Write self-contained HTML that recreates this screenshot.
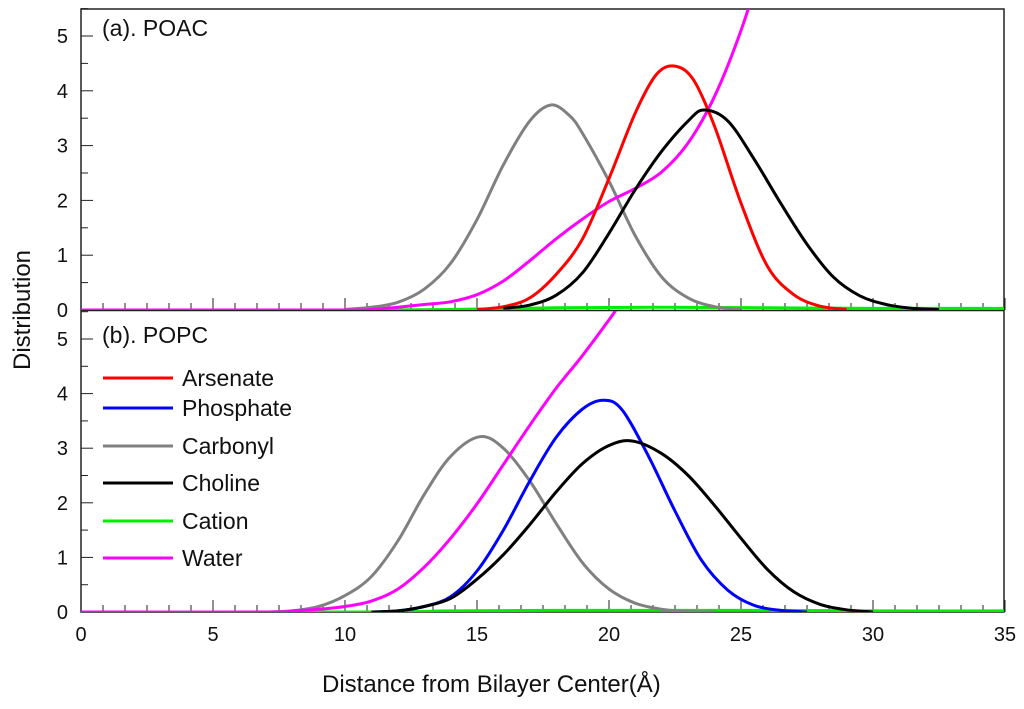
<!DOCTYPE html>
<html><head><meta charset="utf-8">
<style>
html,body{margin:0;padding:0;background:#fff;}
svg{display:block;font-family:"Liberation Sans",Arial,sans-serif;}
</style></head>
<body>
<svg id="chart" width="1024" height="709" viewBox="0 0 1024 709">
<defs>
<clipPath id="clipA"><rect x="81" y="9" width="923" height="301"/></clipPath>
<clipPath id="clipB"><rect x="81" y="311" width="923" height="301"/></clipPath>
</defs>
<g id="axes"></g>
<g id="series"></g>
<text x="102" y="36" font-size="23" fill="#111">(a). POAC</text>
<text x="102" y="343" font-size="23" fill="#111">(b). POPC</text>
<text transform="translate(30,310) rotate(-90)" text-anchor="middle" font-size="24" fill="#111">Distribution</text>
<text x="322" y="692" font-size="24" fill="#111">Distance from Bilayer Center(Å)</text>
<g id="legend"></g>
</svg>
<script>
const xTicks=[0,5,10,15,20,25,30,35];
const yTicks=[0,1,2,3,4,5];
// Panel (a) POAC
const aArsX=[15,16,17,18,19,20,21,21.8,22.5,23.2,24,25,26,27,28,29];
const aArsY=[0.01,0.06,0.22,0.65,1.3,2.4,3.6,4.3,4.45,4.2,3.35,1.95,0.8,0.28,0.07,0.01];
const aCarX=[10,11,12,13,14,15,16,17,17.8,18.5,19,20,21,22,23,24,25];
const aCarY=[0.01,0.05,0.14,0.38,0.85,1.65,2.65,3.45,3.74,3.55,3.22,2.35,1.35,0.6,0.22,0.06,0.01];
const aChoX=[16,17,18,19,20,21,22,23,23.6,24.5,25.5,26.5,27.5,28.5,29.5,30.5,31.5,32.5];
const aChoY=[0.03,0.09,0.27,0.68,1.4,2.2,2.9,3.45,3.65,3.45,2.75,1.95,1.2,0.6,0.26,0.1,0.03,0.01];
const aCatX=[0,10,14,18,22,26,30,35];
const aCatY=[0,0,0.01,0.04,0.05,0.04,0.03,0.03];
const aWatX=[0,10,11,12,13,14,15,16,17,18,19,20,21,22,23,24,25,26];
const aWatY=[0,0,0.01,0.05,0.1,0.15,0.28,0.53,0.9,1.3,1.66,1.98,2.22,2.52,3.05,3.9,5.1,6.6];
// Panel (b) POPC
const bPhoX=[11,12,13,14,15,16,17,18,19,19.8,20.5,21.5,22.5,23.5,24.5,25.5,26.5,27.5];
const bPhoY=[0,0.02,0.1,0.28,0.75,1.5,2.4,3.2,3.72,3.88,3.7,2.85,1.85,0.95,0.4,0.12,0.03,0];
const bCarX=[7,8,9,10,11,12,13,14,15.1,16,17,18,19,20,21,22,23,24];
const bCarY=[0,0.02,0.1,0.3,0.65,1.3,2.15,2.85,3.21,3.0,2.4,1.62,0.9,0.42,0.16,0.05,0.01,0];
const bChoX=[11,12,13,14,15,16,17,18,19,20,20.9,22,23,24,25,26,27,28,29,30];
const bChoY=[0,0.02,0.1,0.25,0.6,1.05,1.6,2.2,2.72,3.05,3.13,2.9,2.5,1.95,1.35,0.78,0.37,0.14,0.04,0];
const bCatX=[0,11,14,18,22,26,30,35];
const bCatY=[0,0,0.02,0.03,0.03,0.03,0.02,0.02];
const bWatX=[0,7,8,9,10,11,12,13,14,15,16,17,18,19,20,20.5];
const bWatY=[0,0,0.02,0.05,0.1,0.2,0.42,0.82,1.35,1.98,2.7,3.42,4.1,4.7,5.35,5.7];

const X0=81,XS=26.4;
const panels={a:{y0:310,ys:54.8,clip:'clipA'},b:{y0:612,ys:54.6,clip:'clipB'}};
const xs=v=>X0+v*XS;
const ysf=(p,v)=>panels[p].y0-v*panels[p].ys;
const NS='http://www.w3.org/2000/svg';
function mk(tag,attrs,parent){const e=document.createElementNS(NS,tag);for(const k in attrs)e.setAttribute(k,attrs[k]);parent.appendChild(e);return e;}
const axes=document.getElementById('axes');
const fr=mk('rect',{x:81,y:9,width:923,height:603,fill:'none',stroke:'#222','stroke-width':1.5},axes);


const dv=mk('line',{x1:81,x2:1004,y1:310.5,y2:310.5,stroke:'#222','stroke-width':1.5},axes);


['a','b'].forEach(p=>{
  for(let v=0;v<=5.5;v+=0.5){
    const y=ysf(p,v);const major=Math.abs(v-Math.round(v))<1e-6;
    const t=mk('line',{x1:81,x2:81+(major?12:7),y1:y,y2:y,stroke:'#222','stroke-width':1},axes);
    
    
  }
  yTicks.forEach(v=>{
    const t=mk('text',{x:68,y:ysf(p,v)+7,'text-anchor':'end','font-size':20,fill:'#111'},axes);
    t.textContent=v;
    
    
  });
  for(let i=0;i<=42;i++){
    const v=i*5/6;const x=xs(v);const major=i%6===0;
    const t=mk('line',{x1:x,x2:x,y1:panels[p].y0,y2:panels[p].y0-(major?12:7),stroke:'#222','stroke-width':1},axes);
    
    
  }
});
xTicks.forEach(v=>{
  const t=mk('text',{x:xs(v),y:641,'text-anchor':'middle','font-size':20,fill:'#111'},axes);
  t.textContent=v;
  
  
});
function pathD(p,X,Y){
  const pts=X.map((x,i)=>[xs(x),ysf(p,Y[i])]);
  let d='M'+pts[0][0].toFixed(1)+','+pts[0][1].toFixed(1);
  for(let i=0;i<pts.length-1;i++){
    const p0=pts[Math.max(0,i-1)],p1=pts[i],p2=pts[i+1],p3=pts[Math.min(pts.length-1,i+2)];
    const c1=[p1[0]+(p2[0]-p0[0])/6,p1[1]+(p2[1]-p0[1])/6];
    const c2=[p2[0]-(p3[0]-p1[0])/6,p2[1]-(p3[1]-p1[1])/6];
    d+='C'+c1.map(n=>n.toFixed(1))+' '+c2.map(n=>n.toFixed(1))+' '+p2.map(n=>n.toFixed(1));
  }
  return d;
}
const ser=document.getElementById('series');
const list=[
 ['a','cation',aCatX,aCatY,'#00ee00'],
 ['a','carbonyl',aCarX,aCarY,'#808080'],
 ['a','water',aWatX,aWatY,'#ff00ff'],
 ['a','arsenate',aArsX,aArsY,'#ff0000'],
 ['a','choline',aChoX,aChoY,'#000000'],
 ['b','cation',bCatX,bCatY,'#00ee00'],
 ['b','carbonyl',bCarX,bCarY,'#808080'],
 ['b','water',bWatX,bWatY,'#ff00ff'],
 ['b','phosphate',bPhoX,bPhoY,'#0000ff'],
 ['b','choline',bChoX,bChoY,'#000000'],
];
list.forEach(([p,n,X,Y,c])=>{
  const e=mk('path',{d:pathD(p,X,Y),fill:'none',stroke:c,'stroke-width':3,'clip-path':'url(#'+panels[p].clip+')','stroke-linejoin':'round'},ser);
  
  
});
const leg=document.getElementById('legend');
const legNames=['Arsenate','Phosphate','Carbonyl','Choline','Cation','Water'];
const legColors=['#ff0000','#0000ff','#808080','#000000','#00ee00','#ff00ff'];
const legY=[378,408,446,483,521,558];
legNames.forEach((n,i)=>{
  const g=mk('g',{},leg);
  
  
  mk('line',{x1:103,x2:173,y1:legY[i],y2:legY[i],stroke:legColors[i],'stroke-width':3},g);
  const t=mk('text',{x:182,y:legY[i]+8,'font-size':23,fill:'#111'},g);
  t.textContent=n;
});
</script>
</body></html>
